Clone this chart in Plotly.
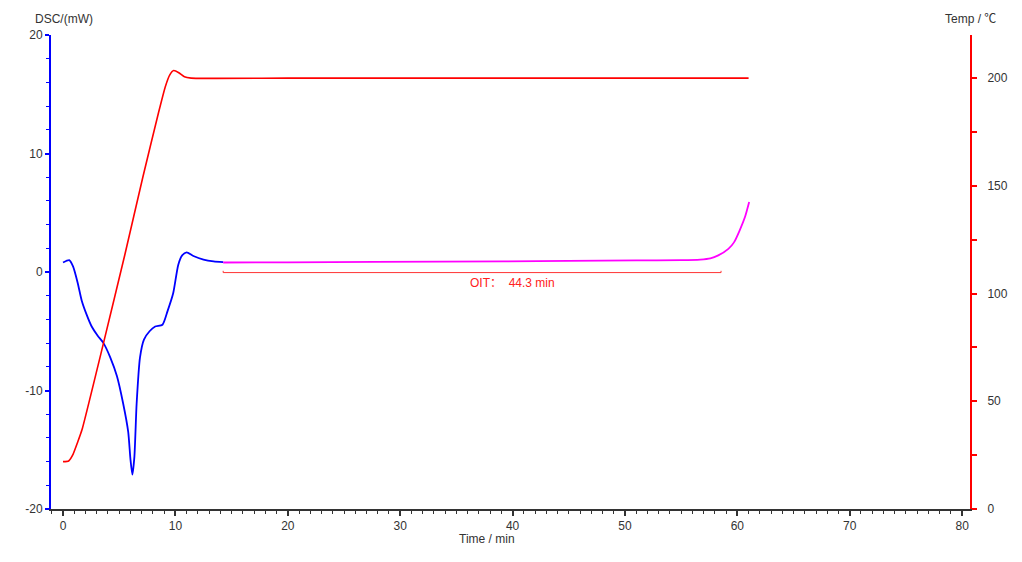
"""
DSC oxidation induction time (OIT) curve
"""

import plotly.graph_objects as go

# DSC signal during heating (blue)
time_heat = [0.0, 0.55, 0.9, 1.3, 1.66, 2.1, 2.55, 3.1, 3.6, 4.2, 4.8, 5.35, 5.8, 6.0, 6.17,
             6.35, 6.55, 6.85, 7.2, 7.7, 8.2, 8.85, 9.3, 9.8, 10.25, 10.6, 11.0, 11.6, 12.5, 13.4, 14.25]
dsc_heat = [0.8, 1.0, 0.45, -0.9, -2.4, -3.6, -4.6, -5.4, -6.0, -7.2, -8.8, -11.1, -13.5, -15.8, -17.1,
            -15.6, -11.1, -7.2, -5.7, -5.0, -4.6, -4.45, -3.3, -1.8, 0.6, 1.4, 1.65, 1.35, 1.05, 0.9, 0.84]

# DSC signal during isothermal hold (magenta)
time_iso = [14.25, 20.0, 27.7, 39.2, 51.0, 55.0, 56.7, 57.6, 58.3, 59.2, 59.7, 60.2, 60.7, 61.05]
dsc_iso = [0.8, 0.82, 0.85, 0.9, 0.98, 1.0, 1.05, 1.15, 1.4, 1.95, 2.5, 3.5, 4.7, 5.9]

# furnace temperature (red, right axis)
time_temp = [0.0, 0.5, 0.9, 1.3, 1.7, 3.6, 5.5, 7.1, 8.5, 9.1, 9.5, 9.85, 10.3, 10.8, 11.4, 20.0, 40.0, 61.0]
temp = [22.0, 22.3, 25.5, 31.0, 37.0, 77.0, 118.0, 154.0, 184.0, 196.0, 201.5, 203.5, 202.5, 200.6, 200.0, 200.0, 200.0, 200.0]

dsc_ticks = [-20, -10, 0, 10, 20]
dsc_ticktext = ["-20", "-10", "0", "10", "20"]

oit_start = 14.25
oit_end = 58.55
oit_label = "OIT：  44.3 min"

font = dict(family="Liberation Sans, Arial, Noto Sans CJK SC, sans-serif", size=12, color="#333333")

fig = go.Figure()
fig.add_trace(go.Scatter(x=time_heat, y=dsc_heat, mode="lines", line=dict(color="#0000ff", width=1.8, shape="spline", smoothing=0.6)))
fig.add_trace(go.Scatter(x=time_iso, y=dsc_iso, mode="lines", line=dict(color="#ff00ff", width=1.8, shape="spline", smoothing=0.6)))
fig.add_trace(go.Scatter(x=time_temp, y=temp, mode="lines", yaxis="y2", line=dict(color="#ff0000", width=1.6, shape="spline", smoothing=0.5)))
# OIT bracket
fig.add_trace(go.Scatter(x=[oit_start, oit_start, oit_end, oit_end], y=[0.1, -0.05, -0.05, 0.1], mode="lines",
                         line=dict(color="#ff3333", width=1)))

fig.add_annotation(x=40.0, y=-0.15, text=oit_label, showarrow=False, yanchor="top",
                   font=dict(family=font["family"], size=12, color="#ff2020"))
fig.add_annotation(x=0.014, y=1.034, xref="paper", yref="paper", text="DSC/(mW)", showarrow=False,
                   xanchor="center", yanchor="middle", font=font)
fig.add_annotation(x=1.0, y=1.034, xref="paper", yref="paper", text="Temp / ℃", showarrow=False,
                   xanchor="center", yanchor="middle",
                   font=dict(family="Liberation Sans, Noto Sans CJK SC, sans-serif", size=12, color="#333333"))
fig.add_annotation(x=0.474, y=-0.063, xref="paper", yref="paper", text="Time / min", showarrow=False,
                   xanchor="center", yanchor="middle", font=font)

# the page adds an 8 px offset, so the figure is slightly smaller than the window
fig.update_layout(
    width=1014, height=554,
    margin=dict(l=43, r=52, t=27, b=53),
    plot_bgcolor="white", paper_bgcolor="white",
    showlegend=False,
    font=font,
    xaxis=dict(range=[-1.07, 80.7], dtick=10, tick0=0, showgrid=False, zeroline=False,
               showline=True, linecolor="#333333", linewidth=2,
               ticks="outside", ticklen=5, tickcolor="#333333", tickwidth=1.5,
               minor=dict(dtick=1, ticks="outside", ticklen=3, tickcolor="#333333", tickwidth=1)),
    yaxis=dict(range=[-20, 20], tickvals=dsc_ticks, ticktext=dsc_ticktext, showgrid=False, zeroline=False,
               showline=True, linecolor="#0000ff", linewidth=2,
               ticks="outside", ticklen=4, tickcolor="#0000ff", tickwidth=1.5,
               minor=dict(dtick=2, ticks="outside", ticklen=3, tickcolor="#0000ff", tickwidth=1)),
    yaxis2=dict(range=[0, 220], dtick=50, overlaying="y", side="right", showgrid=False, zeroline=False,
                showline=True, linecolor="#ff0000", linewidth=2,
                ticks="outside", ticklen=5, tickcolor="#ff0000", tickwidth=1.5, ticklabelstandoff=8,
                minor=dict(dtick=25, ticks="outside", ticklen=5, tickcolor="#ff0000", tickwidth=1.5)),
)

fig.write_html("out.html")
